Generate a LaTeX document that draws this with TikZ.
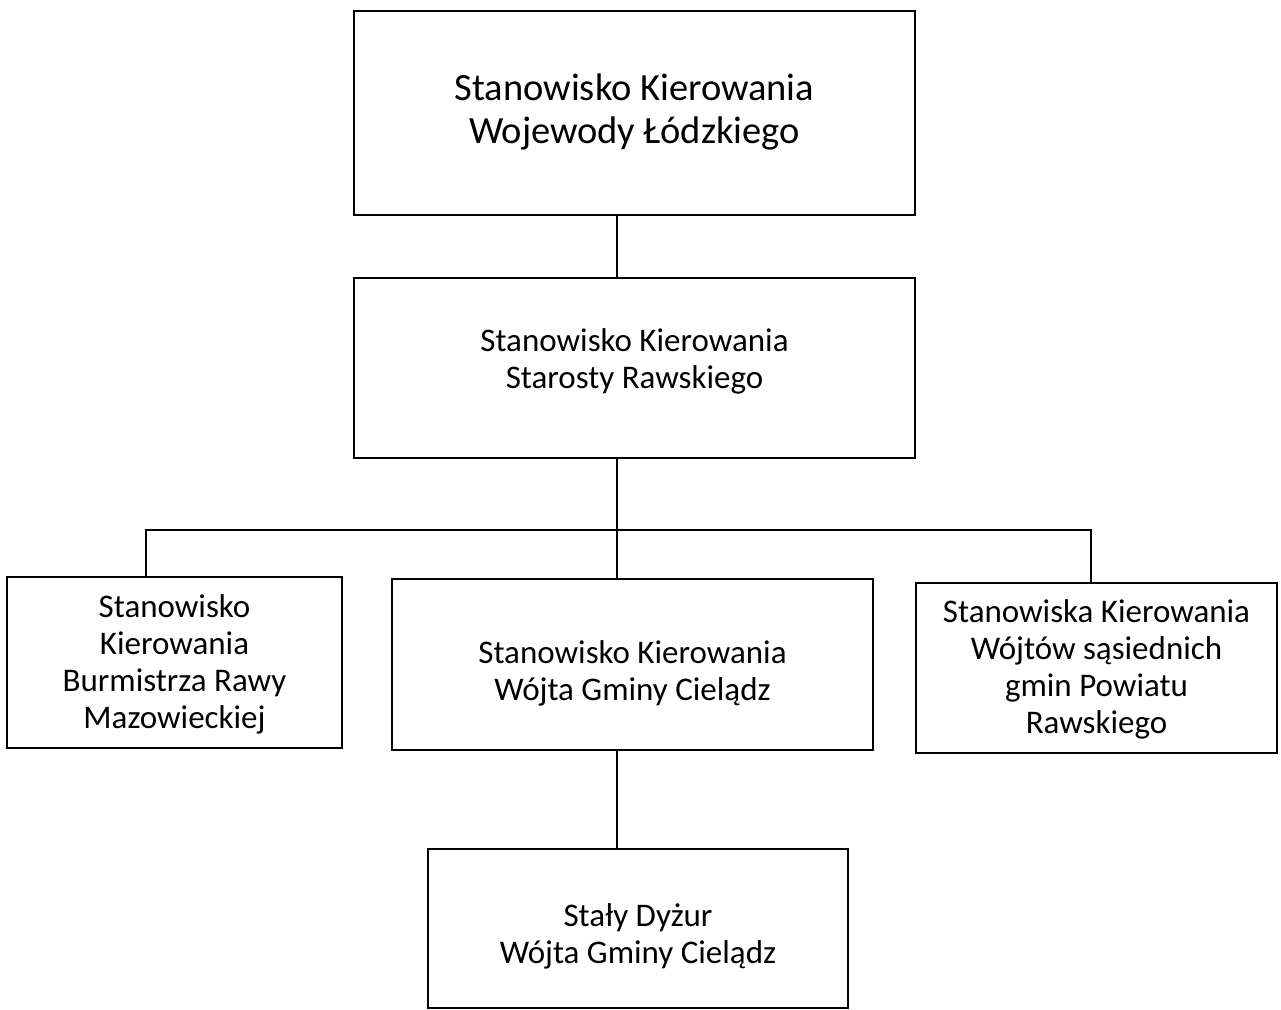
\documentclass[tikz,border=0pt]{standalone}
\usepackage{fontspec}
\setmainfont{Carlito}
\begin{document}
\begin{tikzpicture}[x=1pt,y=-1pt,
  box/.style={draw, line width=1.1pt, inner sep=0pt, anchor=center},
  lbl/.style={inner sep=0pt, align=center, anchor=center},
  big/.style={font=\fontsize{38.5}{43}\selectfont},
  norm/.style={font=\fontsize{33}{37}\selectfont},
  conn/.style={line width=1.1pt}]
\useasboundingbox (0,0) rectangle (1281,1009);
% boxes
\node[box,minimum width=561pt,minimum height=204pt] (woj) at (634.5,113) {};
\node[box,minimum width=561pt,minimum height=180pt] (star) at (634.5,368) {};
\node[box,minimum width=335pt,minimum height=171pt] (burm) at (174.5,662.5) {};
\node[box,minimum width=481pt,minimum height=171pt] (wojt) at (632.5,664.5) {};
\node[box,minimum width=361pt,minimum height=170pt] (sas) at (1096.5,668) {};
\node[box,minimum width=420pt,minimum height=159pt] (dyz) at (638,928.5) {};
% texts
\node[lbl,big] (wojtxt) at (634.5,112) {Stanowisko Kierowania\\Wojewody Łódzkiego};
\node[lbl,norm] (startxt) at (634.5,361) {Stanowisko Kierowania\\Starosty Rawskiego};
\node[lbl,norm] (burmtxt) at (174.5,664.5) {Stanowisko\\Kierowania\\Burmistrza Rawy\\Mazowieckiej};
\node[lbl,norm] (wojttxt) at (632.5,673.5) {Stanowisko Kierowania\\Wójta Gminy Cielądz};
\node[lbl,norm] (sastxt) at (1096.5,669) {Stanowiska Kierowania\\Wójtów sąsiednich\\gmin Powiatu\\Rawskiego};
\node[lbl,norm] (dyztxt) at (638,936.5) {Stały Dyżur\\Wójta Gminy Cielądz};
% connectors
\coordinate (j) at (617,530);
\coordinate (jl) at (146,530);
\coordinate (jr) at (1091,530);
\draw[conn] (j |- woj.south) -- (j |- star.north);
\draw[conn] (j |- star.south) -- (j);
\draw[conn] (jl |- burm.north) -- (jl) -- (jr) -- (jr |- sas.north);
\draw[conn] (j) -- (j |- wojt.north);
\draw[conn] (j |- wojt.south) -- (j |- dyz.north);
\end{tikzpicture}
\end{document}
